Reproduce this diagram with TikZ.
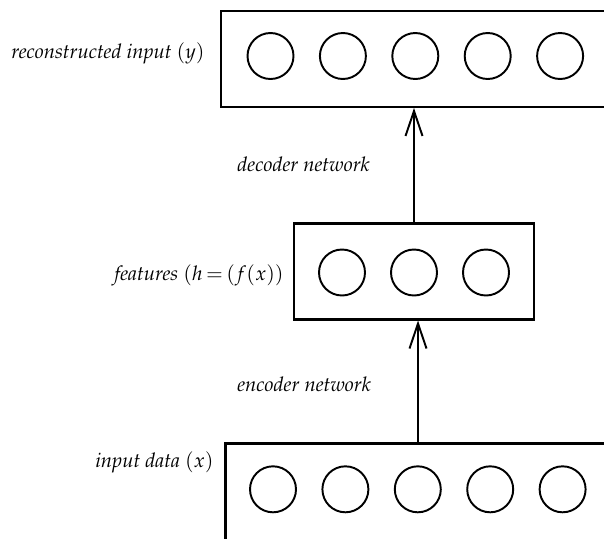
\documentclass[tikz,border=0pt]{standalone}
\usepackage[T1]{fontenc}
\usepackage{mathpazo}
\usetikzlibrary{positioning}
\usetikzlibrary{arrows.meta}

\tikzset{
  layer/.style={draw, line width=1.4pt, minimum height=1.92cm, inner sep=0pt},
  unit/.style={circle, draw, line width=1.1pt, minimum size=0.92cm, inner sep=0pt},
  lbl/.style={font=\fontsize{11.5}{14}\selectfont, inner sep=0pt},
  flow/.style={line width=1.1pt, -{Straight Barb[length=5mm,width=3.4mm]}}
}

\begin{document}
\begin{tikzpicture}[x=0.02cm,y=-0.02cm]
\useasboundingbox (0,0) rectangle (604,538);
\clip (0,0) rectangle (604,538);

% layers
\node[layer,minimum width=7.76cm] (out) at (415,58.75) {};
\node[layer,minimum width=4.8cm] (hid) at (414,271.3) {};
\node[layer,minimum width=7.7cm,minimum height=2.1cm] (inp) at (418,495.8) {};

% units
\foreach \i in {0,...,4} {
  \node[unit] (out\i) at (270.5+72.4*\i,56) {};
  \node[unit] (inp\i) at (273+72.4*\i,489.3) {};
}
\foreach \i in {0,1,2} \node[unit] (hid\i) at (342+72*\i,272.5) {};

% encoder / decoder
\draw[flow] (inp.north) -- (inp.north |- hid.south);
\draw[flow] (hid.north) -- (hid.north |- out.south);

% labels
\node[lbl,anchor=base east] (outlbl) at (205,58) {\textit{reconstructed input} $(y)$};
\node[lbl,anchor=base east] (hidlbl) at (284,280) {\textit{features} $(h\mskip3mu{=}\mskip3mu(f(x))$};
\node[lbl,anchor=base east] (inplbl) at (214,467) {\textit{input data} $(x)$};
\node[lbl,anchor=base west] (declbl) at (237,171.5) {\textit{decoder network}};
\node[lbl,anchor=base west] (enclbl) at (237,391.5) {\textit{encoder network}};

\end{tikzpicture}
\end{document}
